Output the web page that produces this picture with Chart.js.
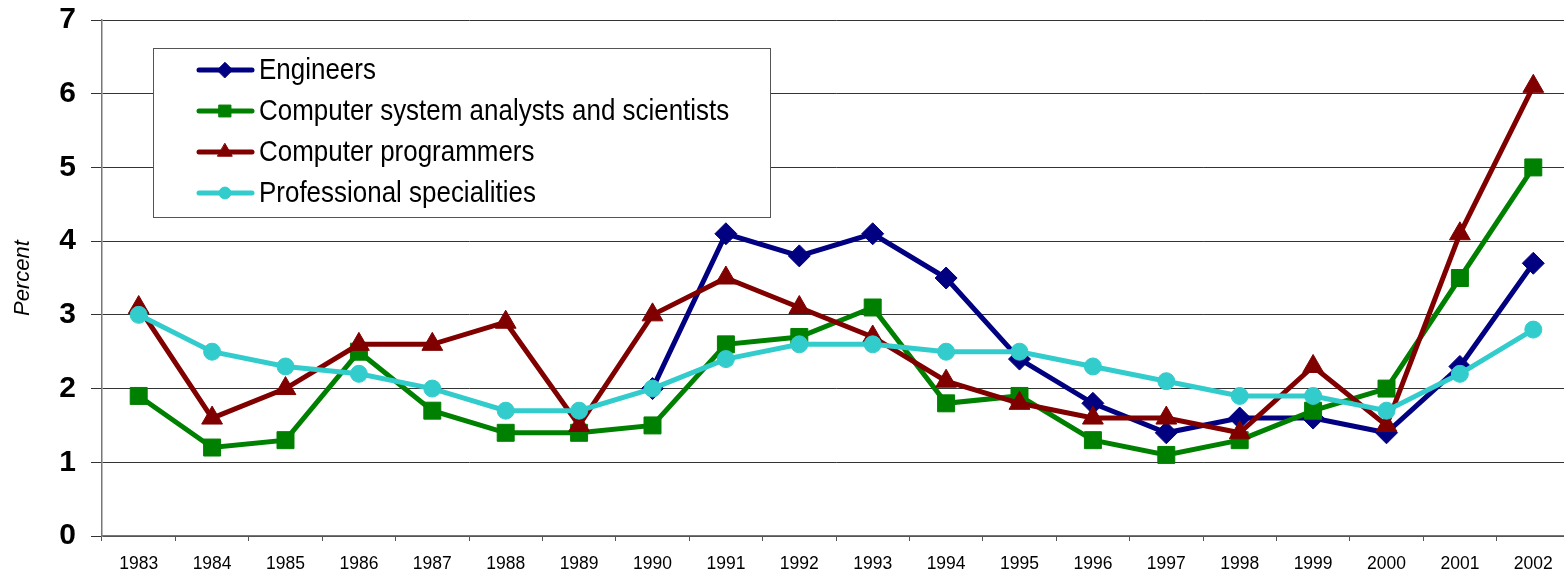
<!DOCTYPE html>
<html>
<head>
<meta charset="utf-8">
<script src="https://cdn.jsdelivr.net/npm/chart.js@4/dist/chart.umd.min.js"></script>
<style>
	html,body{margin:0;padding:0;background:#fff;overflow:hidden;}
	#wrap{width:1583px;height:573px;}
</style>
</head>
<body>
<div id="wrap"><canvas id="graphCanvas" width="1583" height="573"></canvas></div>
<script>
var years = ["1983","1984","1985","1986","1987","1988","1989","1990","1991","1992",
	"1993","1994","1995","1996","1997","1998","1999","2000","2001","2002"];
var engineers = [null,null,null,null,null,null,null,2.0,4.1,3.8,4.1,3.5,2.4,1.8,1.4,1.6,1.6,1.4,2.3,3.7];
var analysts = [1.9,1.2,1.3,2.5,1.7,1.4,1.4,1.5,2.6,2.7,3.1,1.8,1.9,1.3,1.1,1.3,1.7,2.0,3.5,5.0];
var programmers = [3.1,1.6,2.0,2.6,2.6,2.9,1.5,3.0,3.5,3.1,2.7,2.1,1.8,1.6,1.6,1.4,2.3,1.5,4.1,6.1];
var professional = [3.0,2.5,2.3,2.2,2.0,1.7,1.7,2.0,2.4,2.6,2.6,2.5,2.5,2.3,2.1,1.9,1.9,1.7,2.2,2.8];
var yTicks = [0,1,2,3,4,5,6,7];

function series(label,data,color,style,radius,order){
	return {
		label:label,
		data:data,
		borderColor:color,
		backgroundColor:color,
		borderWidth:5,
		pointStyle:style,
		pointRadius:radius,
		pointHoverRadius:radius,
		pointBorderWidth:1,
		pointBorderColor:color,
		pointBackgroundColor:color,
		spanGaps:false,
		tension:0,
		order:order
	};
}

// legend box drawn inside the plot, like the original
var boxLegend = {
	id:"boxLegend",
	afterDraw:function(chart){
		var ctx = chart.ctx;
		var left = 153, top = 48, w = 617, h = 169;
		ctx.save();
		ctx.fillStyle = "#fff";
		ctx.fillRect(left,top,w,h);
		ctx.strokeStyle = "#555";
		ctx.lineWidth = 1;
		ctx.strokeRect(left+0.5,top+0.5,w,h);
		var sets = chart.data.datasets;
		for (var i = 0; i < sets.length; i++){
			var d = sets[i];
			var y = 70 + i*41;
			ctx.strokeStyle = d.borderColor;
			ctx.lineWidth = 5;
			ctx.lineCap = "round";
			ctx.beginPath();
			ctx.moveTo(199,y);
			ctx.lineTo(252,y);
			ctx.stroke();
			ctx.fillStyle = d.backgroundColor;
			ctx.lineWidth = 1;
			Chart.helpers.drawPoint(ctx,{pointStyle:d.pointStyle,radius:d.pointRadius*0.7,rotation:0,borderWidth:1},225,y);
			ctx.save();
			ctx.translate(259,y);
			ctx.scale(0.895,1);
			ctx.fillStyle = "#000";
			ctx.font = "29px 'Liberation Sans', Arial, sans-serif";
			ctx.textBaseline = "middle";
			ctx.fillText(d.label,0,1);
			ctx.restore();
		}
		ctx.restore();
	}
};

var ctx = document.getElementById("graphCanvas");
var lineChart = new Chart(ctx,{
	type:"line",
	data:{
		labels:years,
		datasets:[
			series("Engineers",engineers,"#000080","rectRot",11,4),
			series("Computer system analysts and scientists",analysts,"#008000","rect",12,3),
			series("Computer programmers",programmers,"#800000","triangle",12,2),
			series("Professional specialities",professional,"#33CCCC","circle",8.5,1)
		]
	},
	options:{
		responsive:false,
		animation:false,
		layout:{padding:0},
		plugins:{
			legend:{display:false},
			tooltip:{enabled:false}
		},
		scales:{
			x:{
				offset:true,
				grid:{offset:true,drawOnChartArea:false,drawTicks:true,tickLength:5,color:"#555"},
				border:{color:"#777",width:1.5},
				ticks:{
					color:"#000",
					padding:13,
					maxRotation:0,
					autoSkip:false,
					font:{family:"'Liberation Sans', Arial, sans-serif",size:17.5}
				},
				afterFit:function(scale){
					scale.height = 37;
				}
			},
			y:{
				min:0,
				max:7,
				afterBuildTicks:function(scale){
					scale.ticks = yTicks.map(function(v){return {value:v};});
				},
				grid:{color:"#333",lineWidth:1,tickLength:11},
				border:{color:"#777",width:1.5},
				ticks:{
					color:"#000",
					padding:15,
					font:{family:"'Liberation Sans', Arial, sans-serif",size:30,weight:"bold"}
				},
				title:{
					display:true,
					text:"Percent",
					color:"#000",
					padding:{top:10,bottom:0},
					font:{family:"'Liberation Sans', Arial, sans-serif",size:22,style:"italic"}
				},
				afterFit:function(scale){
					scale.width = 102;
					scale.paddingTop = 20;
					scale.paddingBottom = 0;
				}
			}
		}
	},
	plugins:[boxLegend]
});
</script>
</body>
</html>
